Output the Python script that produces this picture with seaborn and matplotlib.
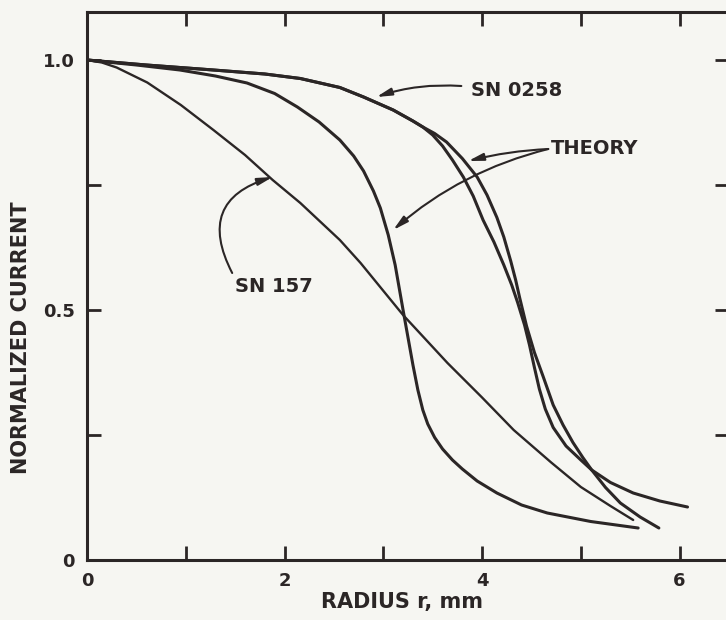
import seaborn as sns
import pandas as pd
from matplotlib import pyplot as plt

# ---- data ----
sn157_r = [0, 0.15, 0.3, 0.61, 0.95, 1.28, 1.6, 1.88, 2.16, 2.56, 2.77, 3.2, 3.65, 4.0, 4.32, 4.7, 5.0, 5.3, 5.53]
sn157_i = [1.0, 0.995, 0.985, 0.955, 0.91, 0.86, 0.81, 0.76, 0.714, 0.64, 0.594, 0.49, 0.394, 0.325, 0.26,
           0.195, 0.146, 0.108, 0.08]

theory1_r = [0, 0.5, 0.94, 1.3, 1.62, 1.9, 2.13, 2.35, 2.56, 2.7, 2.8, 2.9, 2.97, 3.05, 3.12, 3.2, 3.3, 3.35,
             3.4, 3.45, 3.52, 3.6, 3.7, 3.8, 3.95, 4.15, 4.4, 4.66, 5.1, 5.58]
theory1_i = [1.0, 0.99, 0.98, 0.968, 0.954, 0.933, 0.906, 0.876, 0.84, 0.808, 0.778, 0.738, 0.704, 0.65, 0.59,
             0.5, 0.39, 0.34, 0.3, 0.272, 0.245, 0.222, 0.2, 0.182, 0.158, 0.134, 0.11, 0.094, 0.077, 0.064]

sn0258_r = [0, 0.6, 1.28, 1.8, 2.16, 2.56, 2.8, 3.1, 3.3, 3.4, 3.5, 3.6, 3.7, 3.81, 3.91, 4.01, 4.12, 4.22, 4.3,
            4.36, 4.43, 4.48, 4.53, 4.58, 4.64, 4.72, 4.85, 5.0, 5.11, 5.3, 5.53, 5.8, 6.08]
sn0258_i = [1.0, 0.99, 0.98, 0.972, 0.963, 0.945, 0.926, 0.9, 0.878, 0.866, 0.85, 0.828, 0.8, 0.766, 0.728,
            0.68, 0.636, 0.59, 0.55, 0.515, 0.47, 0.43, 0.385, 0.342, 0.302, 0.265, 0.228, 0.2, 0.18, 0.155,
            0.134, 0.118, 0.106]

theory2_r = [0, 0.6, 1.28, 1.8, 2.16, 2.56, 2.8, 3.1, 3.3, 3.4, 3.52, 3.64, 3.8, 3.95, 4.05, 4.15, 4.22, 4.29,
             4.34, 4.38, 4.45, 4.53, 4.62, 4.72, 4.82, 4.92, 5.02, 5.11, 5.25, 5.4, 5.6, 5.79]
theory2_i = [1.0, 0.99, 0.98, 0.972, 0.963, 0.945, 0.926, 0.9, 0.878, 0.866, 0.853, 0.836, 0.803, 0.766, 0.73,
             0.685, 0.646, 0.598, 0.56, 0.525, 0.468, 0.415, 0.366, 0.31, 0.27, 0.235, 0.205, 0.18, 0.145,
             0.114, 0.086, 0.064]

x_ticks = [0, 1, 2, 3, 4, 5, 6]
x_labels = ['0', '', '2', '', '4', '', '6']
y_ticks = [0, 0.25, 0.5, 0.75, 1.0]
y_labels = ['0', '', '0.5', '', '1.0']

ink = '#2b2626'
paper = '#f6f6f2'

sns.set_style('ticks')
plt.rcParams['font.family'] = ['DejaVu Sans']

fig = plt.figure(figsize=(7.26, 6.2), dpi=100, facecolor=paper)
ax = fig.add_axes([87 / 726, 60 / 620, 642 / 726, 548 / 620])
ax.set_facecolor(paper)

curves = [(sn157_r, sn157_i, 1.7), (theory1_r, theory1_i, 2.2),
          (sn0258_r, sn0258_i, 2.2), (theory2_r, theory2_i, 2.2)]
for r, i, lw in curves:
    df = pd.DataFrame({'r': r, 'i': i})
    sns.lineplot(data=df, x='r', y='i', ax=ax, color=ink, lw=lw, sort=False, estimator=None)

ax.set_xlim(0, 6.5)
ax.set_ylim(0, 1.096)
ax.set_xticks(x_ticks)
ax.set_xticklabels(x_labels)
ax.set_yticks(y_ticks)
ax.set_yticklabels(y_labels)
ax.tick_params(direction='in', length=10, width=2, color=ink, labelcolor=ink, labelsize=13,
               top=True, right=True, pad=9)
for lab in ax.get_xticklabels() + ax.get_yticklabels():
    lab.set_fontweight('bold')
for s in ax.spines.values():
    s.set_linewidth(2.2)
    s.set_color(ink)

ax.set_xlabel('RADIUS r, mm', fontsize=15, color=ink, fontweight='bold')
ax.set_ylabel('NORMALIZED CURRENT', fontsize=15, color=ink, fontweight='bold')
ax.xaxis.set_label_coords(0.49, -0.058)
ax.yaxis.set_label_coords(-0.087, 0.405)

# annotations
txt = dict(fontsize=14, fontweight='bold', color=ink, va='center', ha='left')
arw = dict(arrowstyle='-|>,head_length=0.9,head_width=0.22', color=ink, lw=1.5, shrinkA=0, shrinkB=0)

ax.text(3.89, 0.94, 'SN 0258', **txt)
ax.annotate('', xy=(2.93, 0.926), xytext=(3.79, 0.948),
            arrowprops=dict(arw, connectionstyle='arc3,rad=0.1'))

ax.text(4.70, 0.824, 'THEORY', **txt)
ax.annotate('', xy=(3.86, 0.798), xytext=(4.67, 0.822),
            arrowprops=dict(arw, connectionstyle='arc3,rad=0.05'))
ax.annotate('', xy=(3.10, 0.66), xytext=(4.67, 0.822),
            arrowprops=dict(arw, connectionstyle='arc3,rad=0.12'))

ax.text(1.50, 0.546, 'SN 157', **txt)
ax.annotate('', xy=(1.88, 0.766), xytext=(1.47, 0.574),
            arrowprops=dict(arw, connectionstyle='arc3,rad=-0.6'))

fig.savefig('out.png', dpi=100, facecolor=paper)
